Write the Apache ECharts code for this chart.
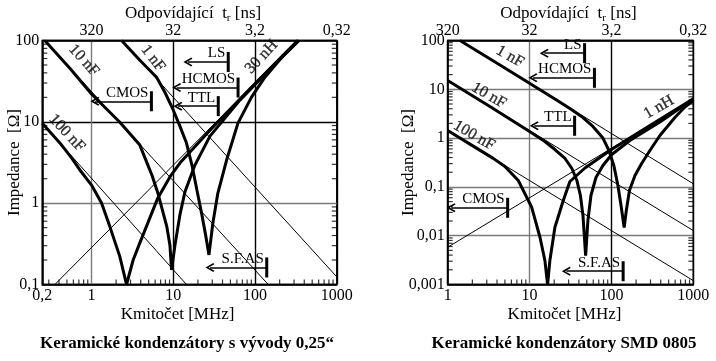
<!DOCTYPE html>
<html><head><meta charset="utf-8">
<script src="https://cdn.jsdelivr.net/npm/echarts@6/dist/echarts.min.js"></script>
<style>html,body{margin:0;padding:0;background:#fff}#c{width:716px;height:361px}</style>
</head><body><div id="c"></div>
<script>
// ================= DATA =================
// Left chart: ceramic capacitors with 0.25" leads (f in MHz, |Z| in ohm)
const leftIdeal100n = [[0.25, 9.6], [14.5, 0.1]];
const leftIdeal10n  = [[0.268, 100], [145, 0.1]];
const leftIdeal1n   = [[2.33, 100], [1000, 0.124]];
const leftIdeal30nH = [[0.356, 0.1], [326, 100]];
const left100nF = [[0.25,9.6],[0.41,5.5],[0.57,3.6],[0.72,2.56],[1,1.67],[1.33,1.0],[1.675,0.515],[2.22,0.22],[2.68,0.1],
  [3.23,0.2],[3.9,0.325],[5.17,0.66],[6.48,1.16],[9.09,2.1],[12.05,3.11],[28.1,7.9],[86.6,25.5],[332,100]];
const left10nF = [[0.268,100],[0.55,45],[1,22],[2.22,9.9],[3.9,5.18],[4.89,2.94],[5.47,2.22],[6.48,1.33],[8.35,0.51],
  [9.09,0.307],[9.53,0.151],[10.5,0.307],[12.05,0.717],[13.87,1.37],[18.4,2.94],[28.1,6.68],[65.3,18.5],[152,44.3],[344,100]];
const left1nF = [[2.33,100],[3.9,57.2],[6.25,35.4],[7.89,23.1],[9.89,14.3],[12.05,8.85],[14.5,5.48],[16.9,2.94],[19.45,1.45],
  [22.4,0.717],[25.1,0.385],[27.3,0.231],[30.5,0.571],[35.1,1.33],[44.9,3.39],[61.8,9.64],[90.9,20.3],[132,35.4],[213,62.2],[344,100]];

// Right chart: ceramic capacitors SMD 0805
const rightIdeal1n   = [[1.41, 100], [1000, 0.116]];
const rightIdeal10n  = [[1, 15.1], [1000, 0.0127]];
const rightIdeal100n = [[1, 1.43], [1000, 0.0012]];
const rightIdeal1nH  = [[1, 0.0058], [1000, 6.38]];
const right100nF = [[1,1.43],[1.87,0.753],[3.6,0.384],[5.0,0.262],[7.28,0.135],[10.6,0.0384],[13.4,0.0093],[15.4,0.0031],[16.6,0.001],
  [17.7,0.0031],[20.4,0.0149],[25.8,0.0526],[31.1,0.129],[47.5,0.244],[100,0.583],[295,1.81],[1000,6.38]];
const right10nF = [[1,15.1],[3.28,4.44],[10,1.36],[15.4,0.851],[20.4,0.583],[27.1,0.382],[32.9,0.238],[37.9,0.135],[41.8,0.0667],
  [44.9,0.026],[48.4,0.0039],[51.6,0.0205],[56.2,0.0667],[64.7,0.156],[78.7,0.275],[101,0.461],[168,0.893],[391,2.14],[1000,6.3]];
const right1nF = [[1.41,100],[4.35,31.5],[10.1,13.2],[20.4,6.32],[31.1,4.05],[44.9,2.64],[59.4,1.73],[78.7,1.0],[93.3,0.557],
  [107,0.275],[120,0.107],[131,0.0416],[143,0.0147],[152,0.0328],[166,0.0844],[194,0.171],[234,0.302],[295,0.557],[391,1.13],
  [596,2.64],[789,4.34],[1000,5.9]];

// Logic families: arrow from bar frequency down to tip frequency (MHz)
const logicNames = ['LS', 'HCMOS', 'TTL', 'CMOS', 'S.F.AS'];
const logicBarF  = [47, 62, 35.5, 5.4, 139];
const logicTipF  = [15.1, 11.0, 11.4, 1.1, 28.1];
const logicZLeft  = [54.5, 26.4, 15.6, 17.9, 0.162];
const logicZRight = [55, 17.2, 1.79, 0.0373, 0.00187];

// Curve captions
const leftCaptions  = ['10 nF', '1 nF', '100 nF', '30 nH'];
const leftCaptionAt = [[0.805, 57], [5.63, 60.5], [0.499, 7.27], [120, 62.8]];
const rightCaptions  = ['1 nF', '10 nF', '100 nF', '1 nH'];
const rightCaptionAt = [[5.76, 47], [3.19, 7.47], [2.1, 1.13], [380, 4.3]];

// Tick labels
const leftXLabels  = ['0,2', '1', '10', '100', '1000'];   // min tick, then decades 1..1000
const rightXLabels = ['1', '10', '100', '1000'];
const topLabels    = ['320', '32', '3,2', '0,32'];          // at 1, 10, 100, 1000 MHz
const leftYLabels  = ['0,1', '1', '10', '100'];
const rightYLabels = ['0,001', '0,01', '0,1', '1', '10', '100'];

// Minor tick values
const leftMinorX  = [0.3,0.4,0.5,0.6,0.7,0.8,0.9,2,3,4,5,6,7,8,9,20,30,40,50,60,70,80,90,200,300,400,500,600,700,800,900];
const rightMinorX = [2,3,4,5,6,7,8,9,20,30,40,50,60,70,80,90,200,300,400,500,600,700,800,900];
const leftMinorY  = [0.2,0.3,0.4,0.5,0.6,0.7,0.8,0.9,2,3,4,5,6,7,8,9,20,30,40,50,60,70,80,90];
const rightMinorY = [0.002,0.003,0.004,0.005,0.006,0.007,0.008,0.009,0.02,0.03,0.04,0.05,0.06,0.07,0.08,0.09,
  0.2,0.3,0.4,0.5,0.6,0.7,0.8,0.9,2,3,4,5,6,7,8,9,20,30,40,50,60,70,80,90];

// ================= CHART =================
const FONT = 'Liberation Serif';
const BLACK = '#000', GRAY = '#7a7a7a';
const chart = echarts.init(document.getElementById('c'), null, {renderer: 'canvas'});

const decadeIdx = v => Math.round(Math.log10(v));

function xBottom(gi, min, labels, minIsSpecial, colors, namePad) {
  return {
    type: 'log', gridIndex: gi, position: 'bottom', min: min, max: 1000,
    name: 'Kmitočet [MHz]', nameLocation: 'middle', nameGap: 22, nameMoveOverlap: false,
    nameTextStyle: {fontFamily: FONT, fontSize: 17, color: BLACK, padding: namePad},
    axisLine: {show: true, lineStyle: {color: BLACK, width: 1.5}},
    axisTick: {show: false},
    axisLabel: {fontFamily: FONT, fontSize: 16, color: BLACK, margin: 3, showMinLabel: true, showMaxLabel: true,
      formatter: v => minIsSpecial ? (v < 0.9 ? labels[0] : labels[decadeIdx(v) + 1]) : labels[decadeIdx(v)]},
    splitLine: {show: true, lineStyle: {color: colors, width: 1.4}}
  };
}
function xTop(gi, min, namePad) {
  return {
    type: 'log', gridIndex: gi, position: 'top', min: min, max: 1000,
    name: 'Odpovídající  t{s|r} [ns]', nameLocation: 'middle', nameGap: 17, nameMoveOverlap: false,
    nameTextStyle: {fontFamily: FONT, fontSize: 17, color: BLACK, padding: namePad,
      rich: {s: {fontFamily: FONT, fontSize: 11, color: BLACK, padding: [9, 0, 0, 0]}}},
    axisLine: {show: true, lineStyle: {color: BLACK, width: 1.5}},
    axisTick: {show: false},
    axisLabel: {fontFamily: FONT, fontSize: 16, color: BLACK, margin: 2, showMinLabel: true, showMaxLabel: true,
      formatter: v => v < 0.9 ? '' : topLabels[decadeIdx(v)]},
    splitLine: {show: false}
  };
}
function yAxis(gi, min, labels, gap, colors) {
  return {
    type: 'log', gridIndex: gi, min: min, max: 100,
    name: 'Impedance  [Ω]', nameLocation: 'middle', nameGap: gap, nameMoveOverlap: false,
    nameTextStyle: {fontFamily: FONT, fontSize: 17, color: BLACK},
    axisLine: {show: true, lineStyle: {color: BLACK, width: 1.5}},
    axisTick: {show: false},
    axisLabel: {fontFamily: FONT, fontSize: 16, color: BLACK, margin: 3, showMinLabel: true, showMaxLabel: true,
      formatter: v => labels[decadeIdx(v) - decadeIdx(min)]},
    splitLine: {show: true, lineStyle: {color: colors, width: 1.4}}
  };
}

function curve(data, xi, yi, w) {
  return {type: 'line', xAxisIndex: xi, yAxisIndex: yi, data: data, symbol: 'none', smooth: false,
    lineStyle: {color: BLACK, width: w}, silent: true, clip: true, z: w > 2 ? 4 : 3};
}
function ticks(points, xi, yi, size, offset) {
  return {type: 'scatter', xAxisIndex: xi, yAxisIndex: yi, data: points, symbol: 'rect', symbolSize: size,
    symbolOffset: offset, itemStyle: {color: BLACK}, silent: true, clip: false, z: 6};
}
const CHEVRON = 'path://M0,8 L6,0 L12,8 L10.3,9.2 L6,3.2 L1.7,9.2 Z';
function annotations(xi, yi, zs) {
  return {
    type: 'line', xAxisIndex: xi, yAxisIndex: yi, data: [], symbol: 'none', silent: true, z: 7,
    markLine: {
      silent: true, animation: false, symbol: [CHEVRON, 'none'], symbolSize: 9,
      lineStyle: {color: BLACK, width: 1.5, type: 'solid'},
      label: {show: true, position: 'insideEndTop', distance: [3, 1], fontFamily: FONT, fontSize: 15, color: BLACK,
        textBorderWidth: 0, formatter: p => p.name},
      data: logicNames.map((n, i) => [{name: n, coord: [logicTipF[i], zs[i]]}, {coord: [logicBarF[i], zs[i]]}])
    },
    markPoint: {
      silent: true, animation: false, symbol: 'rect', symbolSize: [3, 20], itemStyle: {color: BLACK},
      label: {show: false},
      data: logicNames.map((n, i) => ({coord: [logicBarF[i], zs[i]]}))
    }
  };
}
function captions(names, pos, rots, xi, yi) {
  return {
    type: 'scatter', xAxisIndex: xi, yAxisIndex: yi, symbolSize: 0, silent: true, z: 8,
    itemStyle: {color: BLACK},
    data: names.map((n, i) => ({value: pos[i], name: n,
      label: {show: true, position: [0, 0], align: 'center', verticalAlign: 'middle', formatter: n, rotate: rots[i],
        fontFamily: FONT, fontSize: 16, color: BLACK, textBorderColor: BLACK, textBorderWidth: 0.35}}))
  };
}

const option = {
  animation: false,
  backgroundColor: '#fff',
  grid: [
    {left: 42.3, top: 40, width: 294.5, height: 244.5, show: true, borderColor: BLACK, borderWidth: 1.5},
    {left: 447.7, top: 40, width: 245.6, height: 244.5, show: true, borderColor: BLACK, borderWidth: 1.5}
  ],
  xAxis: [
    xBottom(0, 0.25, leftXLabels, true, [BLACK, GRAY, BLACK, BLACK, BLACK], [0, 24, 0, 0]),
    xTop(0, 0.25, [0, 0, 0, 7]),
    xBottom(1, 1, rightXLabels, false, [BLACK, GRAY, BLACK, BLACK], [0, 12, 0, 0]),
    xTop(1, 1, [0, 4, 0, 0])
  ],
  yAxis: [
    yAxis(0, 0.1, leftYLabels, 19, [BLACK, GRAY, BLACK, BLACK]),
    yAxis(1, 0.001, rightYLabels, 31, [BLACK, GRAY, GRAY, GRAY, GRAY, BLACK])
  ],
  series: [
    curve(leftIdeal100n, 0, 0, 1), curve(leftIdeal10n, 0, 0, 1), curve(leftIdeal1n, 0, 0, 1), curve(leftIdeal30nH, 0, 0, 1),
    curve(left100nF, 0, 0, 3), curve(left10nF, 0, 0, 3), curve(left1nF, 0, 0, 3),
    curve(rightIdeal1n, 2, 1, 1), curve(rightIdeal10n, 2, 1, 1), curve(rightIdeal100n, 2, 1, 1), curve(rightIdeal1nH, 2, 1, 1),
    curve(right100nF, 2, 1, 3), curve(right10nF, 2, 1, 3), curve(right1nF, 2, 1, 3),
    ticks(leftMinorX.map(v => [v, 0.1]), 0, 0, [1.2, 5], [0, -2.5]),
    ticks(leftMinorY.map(v => [0.25, v]), 0, 0, [5, 1.2], [2.5, 0]),
    ticks(leftMinorY.map(v => [1000, v]), 0, 0, [5, 1.2], [-2.5, 0]),
    ticks(rightMinorX.map(v => [v, 0.001]), 2, 1, [1.2, 5], [0, -2.5]),
    ticks(rightMinorY.map(v => [1, v]), 2, 1, [5, 1.2], [2.5, 0]),
    ticks(rightMinorY.map(v => [1000, v]), 2, 1, [5, 1.2], [-2.5, 0]),
    annotations(0, 0, logicZLeft),
    annotations(2, 1, logicZRight),
    captions(leftCaptions, leftCaptionAt, [-48, -52, -47, 47], 0, 0),
    captions(rightCaptions, rightCaptionAt, [-30, -30, -30, 30], 2, 1)
  ],
  graphic: [
    {type: 'text', x: 187, y: 344, silent: true,
      style: {text: 'Keramické kondenzátory s vývody 0,25“', font: 'bold 17px "Liberation Serif"', fill: BLACK,
        textAlign: 'center', textVerticalAlign: 'middle'}},
    {type: 'text', x: 564, y: 344, silent: true,
      style: {text: 'Keramické kondenzátory SMD 0805', font: 'bold 17px "Liberation Serif"', fill: BLACK,
        textAlign: 'center', textVerticalAlign: 'middle'}}
  ]
};
chart.setOption(option);
</script>
</body></html>
